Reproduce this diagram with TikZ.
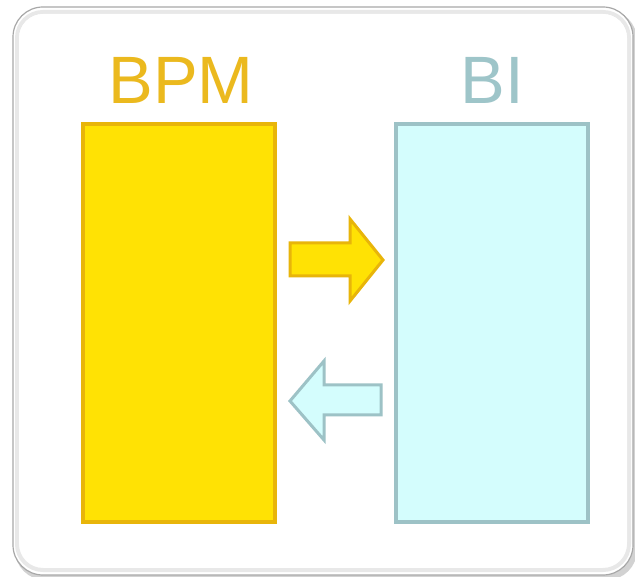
\documentclass[tikz,border=0pt]{standalone}
\usepackage{fontspec}
\setmainfont{Liberation Sans}
\definecolor{bpmfill}{HTML}{FFE204}
\definecolor{bpmdraw}{HTML}{E8B50A}
\definecolor{bpmtext}{HTML}{EBB91E}
\definecolor{bifill}{HTML}{D4FDFD}
\definecolor{bidraw}{HTML}{9DC2C6}
\definecolor{bitext}{HTML}{9EC5C9}
\definecolor{framegray}{HTML}{A8A8A8}
\begin{document}
\begin{tikzpicture}[x=1pt,y=-1pt,
  framebox/.style={draw=framegray,line width=1.2pt,fill=white,rounded corners=30pt},
  bpmbox/.style={draw=bpmdraw,fill=bpmfill,line width=4pt},
  bibox/.style={draw=bidraw,fill=bifill,line width=4pt},
  bpmarrow/.style={draw=bpmdraw,fill=bpmfill,line width=3pt,line join=miter},
  biarrow/.style={draw=bidraw,fill=bifill,line width=3pt,line join=miter},
  title/.style={font=\fontsize{67}{67}\selectfont,anchor=base,inner sep=0pt}]
\useasboundingbox (0,0) rectangle (635,577);
% frame with soft shadow
\fill[gray!35,rounded corners=30pt] (15,10) rectangle (637,580);
\path[framebox] (13,7) rectangle (633,575);
\draw[gray!18,line width=4pt,rounded corners=26pt] (17,12) rectangle (629,570);
\fill[white,rounded corners=24pt] (19,14) rectangle (627,566);
% boxes
\node[bpmbox,minimum width=192pt,minimum height=398pt,inner sep=0pt] (bpm) at (179,323) {};
\node[bibox,minimum width=192pt,minimum height=398pt,inner sep=0pt] (bi) at (492,323) {};
% titles
\node[title,text=bpmtext] (bpmlabel) at (181,104) {BPM};
\node[title,text=bitext] (bilabel) at (492,104) {BI};
% arrows
\draw[bpmarrow] (290,243) -- (350,243) -- (350,219) -- (383,260) -- (350,301) -- (350,276) -- (290,276) -- cycle;
\draw[biarrow] (381,385) -- (324,385) -- (324,361) -- (290,401) -- (324,440) -- (324,415) -- (381,415) -- cycle;
\end{tikzpicture}
\end{document}
